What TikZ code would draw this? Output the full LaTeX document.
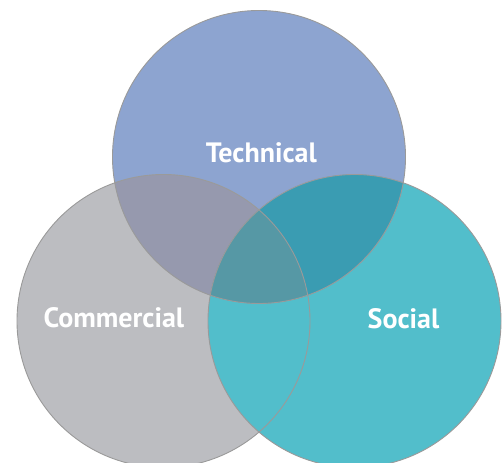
\documentclass[tikz,border=0pt]{standalone}
\usepackage{fontspec}
\setmainfont{PT Sans}
\definecolor{techc}{HTML}{8DA4D0}
\definecolor{commc}{HTML}{BCBDC1}
\definecolor{socc}{HTML}{52BECB}
\definecolor{tcc}{HTML}{9699AE}
\definecolor{tsc}{HTML}{3A9CB2}
\definecolor{tcsc}{HTML}{5698A5}
\definecolor{rimc}{HTML}{9A9A9A}
\tikzset{
  rim/.style={draw=rimc, line width=0.9pt},
  lbl/.style={text=white, font=\fontsize{28}{30}\selectfont\bfseries, anchor=base, inner sep=0pt}
}
\begin{document}
\begin{tikzpicture}[x=1pt,y=1pt]
\useasboundingbox (0,0) rectangle (504,463);
\coordinate (tc) at (259,306);
\coordinate (cc) at (163.5,142);
\coordinate (sc) at (354.5,142);
\def\R{146.5}
\fill[techc] (tc) circle (\R);
\fill[commc] (cc) circle (\R);
\fill[socc] (sc) circle (\R);
\begin{scope}
  \clip (tc) circle (\R);
  \fill[tcc] (cc) circle (\R);
  \fill[tsc] (sc) circle (\R);
  \clip (cc) circle (\R);
  \fill[tcsc] (sc) circle (\R);
\end{scope}
\draw[rim] (tc) circle (\R);
\draw[rim] (cc) circle (\R);
\draw[rim] (sc) circle (\R);
\node[lbl] (tech) at (261.4,300.3) {Technical};
\node[lbl] (comm) at (113.9,135.3) {Commercial};
\node[lbl] (soc) at (403.5,134) {Social};
\end{tikzpicture}
\end{document}
